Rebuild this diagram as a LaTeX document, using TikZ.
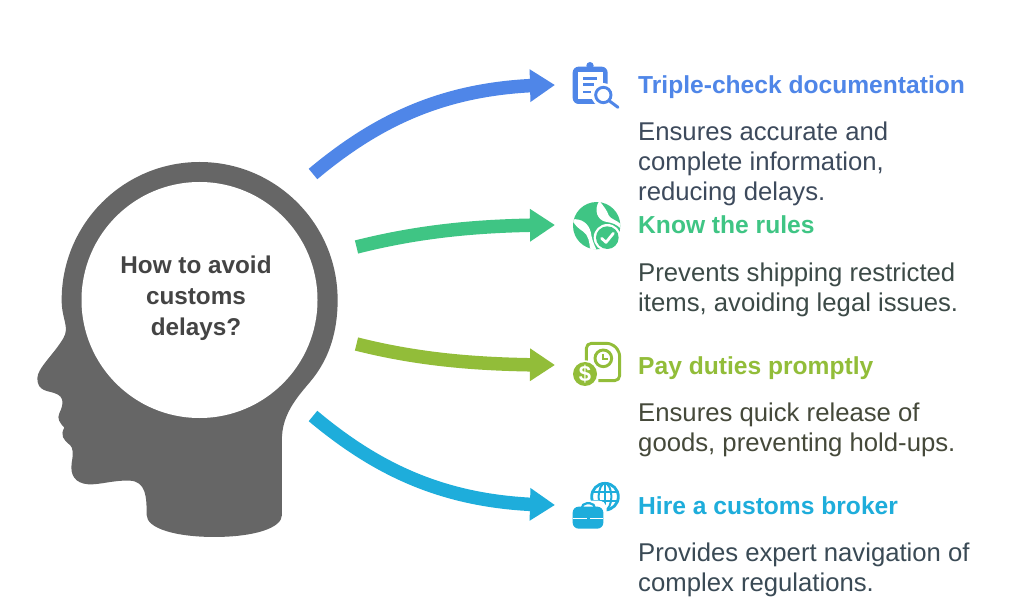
\documentclass[tikz,border=0pt]{standalone}
\usepackage{fontspec}
\setmainfont{Liberation Sans}
\usetikzlibrary{arrows.meta,bending}
\definecolor{cblue}{HTML}{4F86E8}
\definecolor{cgreen}{HTML}{3FC584}
\definecolor{clime}{HTML}{92BD39}
\definecolor{ccyan}{HTML}{1EADDB}
\definecolor{chead}{HTML}{666666}
\definecolor{ctext}{HTML}{444444}
\definecolor{dblue}{HTML}{3D4A5C}
\definecolor{dgreen}{HTML}{3C4A47}
\definecolor{dlime}{HTML}{45493A}
\definecolor{dcyan}{HTML}{3A4A55}
\tikzset{
 x=1pt,y=-1pt,
 arrowline/.style={line width=13.5pt,-{Triangle[length=25pt,width=31pt,flex=1]}},
 titletext/.style={anchor=base west,inner sep=0pt,font=\fontsize{24.6}{30}\selectfont\bfseries},
 bodytext/.style={anchor=base west,inner sep=0pt,align=left,font=\fontsize{25.7}{30}\selectfont},
}
\begin{document}
\begin{tikzpicture}
\useasboundingbox (0,0) rectangle (1024,609);
\fill[white] (0,0) rectangle (1024,609);
% head silhouette
\begin{scope}[shift={(20,160)},scale=0.3333]
\fill[chead] (125,420)
 arc[start angle=180,end angle=360,radius=414]
 .. controls (953,520) and (925,590) .. (890,640)
 .. controls (860,685) and (790,740) .. (786,830)
 -- (786,1065)
 .. controls (786,1105) and (700,1131) .. (583,1131)
 .. controls (466,1131) and (380,1105) .. (380,1065)
 .. controls (380,1010) and (378,965) .. (330,962)
 .. controls (280,960) and (240,975) .. (205,973)
 .. controls (165,970) and (150,945) .. (155,910)
 .. controls (160,880) and (160,865) .. (150,855)
 .. controls (130,840) and (120,825) .. (133,803)
 .. controls (120,790) and (110,775) .. (118,760)
 .. controls (130,735) and (135,710) .. (105,700)
 .. controls (85,692) and (52,695) .. (52,655)
 .. controls (52,625) and (100,585) .. (130,535)
 .. controls (150,500) and (125,480) .. (125,420) -- cycle;
\end{scope}
\node[circle,fill=white,minimum size=236pt,inner sep=0pt] (brain) at (199.5,300) {};
\node[align=center,inner sep=0pt,text=ctext,font=\fontsize{24.3}{31}\selectfont\bfseries] (question) at (196,298) {How to avoid\\customs\\delays?};

% connector ends
\coordinate (a1) at (313,174); \coordinate (b1) at (555,85);
\coordinate (a2) at (356.5,247); \coordinate (b2) at (555,225);
\coordinate (a3) at (356.5,344); \coordinate (b3) at (555,365);
\coordinate (a4) at (313,416); \coordinate (b4) at (555,505);
\draw[arrowline,cblue] (a1) .. controls (380,118) and (450,85) .. (b1);
\draw[arrowline,cgreen] (a2) .. controls (420,231) and (480,225) .. (b2);
\draw[arrowline,clime] (a3) .. controls (420,360) and (480,365) .. (b3);
\draw[arrowline,ccyan] (a4) .. controls (380,472) and (450,505) .. (b4);

% texts
\node[titletext,text=cblue] (t1) at (638,94) {Triple-check documentation};
\node[bodytext,text=dblue] (d1) at (638,201) {Ensures accurate and\\complete information,\\reducing delays.};
\node[titletext,text=cgreen] (t2) at (638,234) {Know the rules};
\node[bodytext,text=dgreen] (d2) at (638,311) {Prevents shipping restricted\\items, avoiding legal issues.};
\node[titletext,text=clime] (t3) at (638,374) {Pay duties promptly};
\node[bodytext,text=dlime] (d3) at (638,451) {Ensures quick release of\\goods, preventing hold-ups.};
\node[titletext,text=ccyan] (t4) at (638,514) {Hire a customs broker};
\node[bodytext,text=dcyan] (d4) at (638,591) {Provides expert navigation of\\complex regulations.};

% icon 1: clipboard and magnifier
\begin{scope}[shift={(540,50)},scale=0.3333]
\fill[cblue,rounded corners=6pt] (98,50) rectangle (203,162);
\fill[cblue] (150,47) circle[radius=11];
\fill[white] (113,65) rectangle (188,147);
\fill[cblue] (130,81) rectangle (172,89);
\fill[cblue] (130,99) rectangle (162,107);
\fill[cblue] (130,122) rectangle (152,130);
\fill[white] (190,135) circle[radius=36];
\draw[cblue,line width=2.9pt,fill=white] (190,135) circle[radius=23];
\draw[cblue,line width=3pt,line cap=round] (207,152) -- (234,172);
\end{scope}

% icon 2: globe and check
\begin{scope}[shift={(540,190)},scale=0.3333]
\fill[cgreen] (170,107) circle[radius=71];
\begin{scope}
\clip (170,107) circle[radius=71.5];
\fill[white] (178,32) .. controls (160,60) and (172,92) .. (200,96) .. controls (215,98) and (230,102) .. (245,118) -- (245,105) .. controls (228,88) and (212,88) .. (206,76) .. controls (202,62) and (190,48) .. (178,32) -- cycle;
\fill[white] (96,88) .. controls (125,85) and (145,100) .. (152,125) .. controls (155,145) and (160,160) .. (170,180) -- (150,180) .. controls (150,160) and (145,135) .. (130,125) .. controls (115,115) and (103,105) .. (96,88) -- cycle;
\end{scope}
\fill[white] (202,143) circle[radius=41];
\fill[cgreen] (202,143) circle[radius=34];
\draw[white,line width=2.8pt,line cap=round,line join=round] (185,145) -- (198,157) -- (220,130);
\end{scope}

% icon 3: document, clock, dollar
\begin{scope}[shift={(540,330)},scale=0.3333]
\draw[clime,line width=2.9pt,line join=round,rounded corners=5pt] (139,95) -- (139,40) -- (215,40) -- (239,64) -- (239,152) -- (175,152);
\draw[clime,line width=2.9pt] (190,85) circle[radius=25];
\draw[clime,line width=2.2pt] (190,72) -- (190,86) -- (203,86);
\fill[white] (135,132) circle[radius=41];
\fill[clime] (135,132) circle[radius=36];
\node[text=white,inner sep=0pt,font=\fontsize{22}{22}\selectfont\bfseries] (dollar) at (135,132) {\$};
\end{scope}

% icon 4: globe and briefcase
\begin{scope}[shift={(540,470)},scale=0.3333]
\draw[ccyan,line width=2.8pt] (195,80) circle[radius=40];
\draw[ccyan,line width=2pt] (195,40) -- (195,120);
\draw[ccyan,line width=2pt] (195,80) ellipse[x radius=19,y radius=40];
\draw[ccyan,line width=2pt] (158,66) -- (232,66);
\draw[ccyan,line width=2pt] (158,94) -- (232,94);
\fill[white,rounded corners=8pt] (88,92) rectangle (200,185);
\draw[ccyan,line width=2.2pt,rounded corners=5pt] (125,112) -- (125,100) -- (165,100) -- (165,112);
\fill[ccyan,rounded corners=6pt] (98,110) rectangle (190,176);
\fill[white] (98,143) rectangle (190,147);
\fill[ccyan] (141,138) rectangle (149,152);
\end{scope}
\end{tikzpicture}
\end{document}
